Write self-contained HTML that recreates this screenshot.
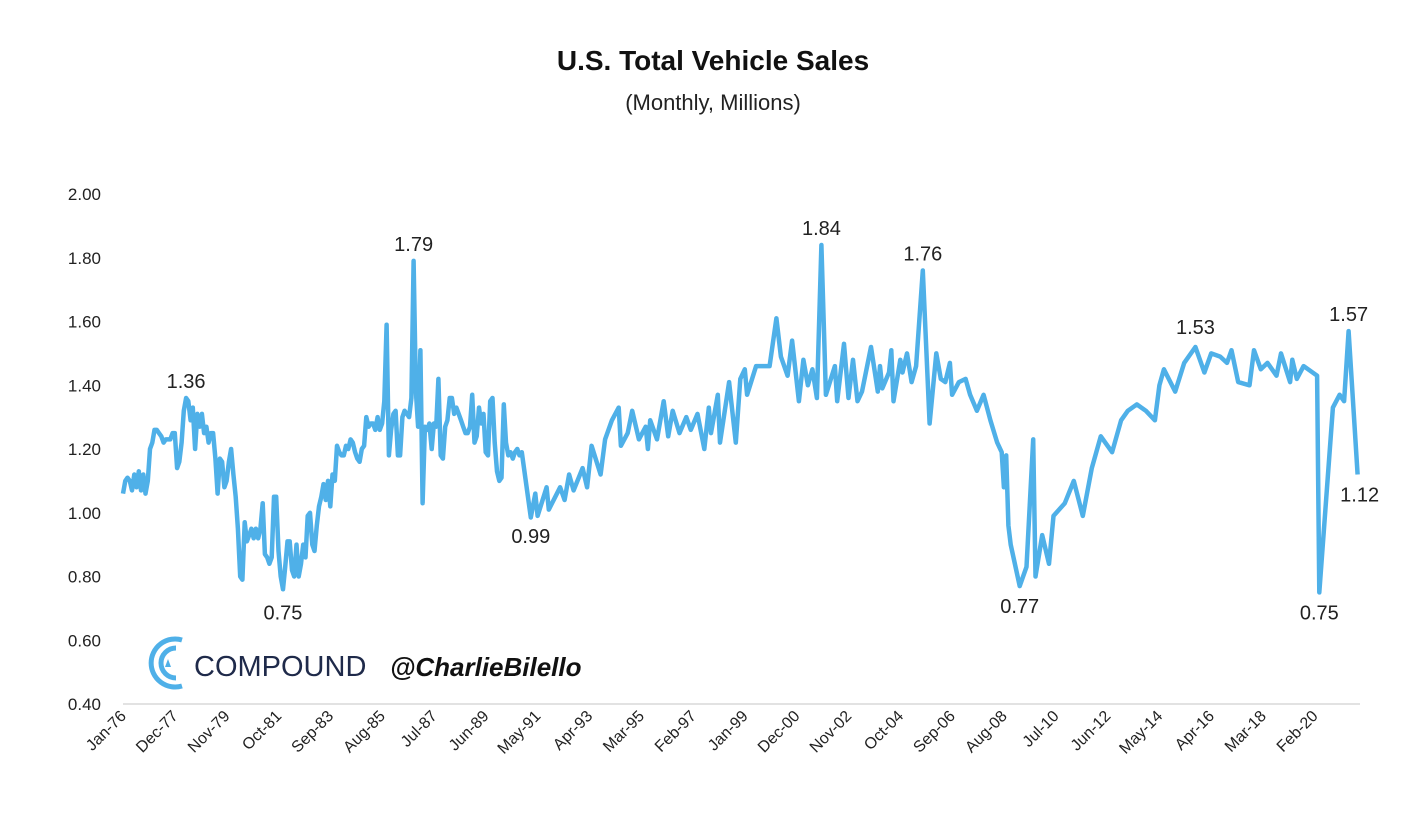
<!DOCTYPE html>
<html><head><meta charset="utf-8"><style>
body{margin:0;background:#fff;}
svg{display:block;font-family:"Liberation Sans",Calibri,sans-serif;}
</style></head><body>
<svg id="chart" width="1426" height="832" viewBox="0 0 1426 832">
<text x="713" y="70" text-anchor="middle" font-size="28" font-weight="bold" fill="#111">U.S. Total Vehicle Sales</text>
<text x="713" y="110" text-anchor="middle" font-size="22" fill="#222">(Monthly, Millions)</text>
<g id="yaxis"></g>
<g id="xaxis"></g>
<g>
<path d="M182 640 A24 24 0 1 0 182 686" fill="none" stroke="#4fb0e8" stroke-width="5"/>
<path d="M176 648 A15 15 0 1 0 176 678" fill="none" stroke="#4fb0e8" stroke-width="5"/>
<polygon points="165,667 171,667 168,659" fill="#4fb0e8"/>
<text x="194" y="676" font-size="29" fill="#1f2a4a">COMPOUND</text>
<text x="390" y="676" font-size="26" font-style="italic" font-weight="bold" fill="#111">@CharlieBilello</text>
</g>
<g id="series"></g>
<g id="annots"></g>
</svg>
<script>
const monthsEarly=Array.from({length:177},(_,i)=>i);
const salesEarly=[1.06,1.10,1.11,1.10,1.07,1.12,1.08,1.13,1.07,1.12,1.06,1.10,1.20,1.22,1.26,1.26,1.25,1.24,1.22,1.23,1.23,1.23,1.25,1.25,1.14,1.16,1.22,1.32,1.36,1.35,1.29,1.33,1.20,1.31,1.27,1.31,1.25,1.27,1.22,1.25,1.25,1.17,1.06,1.17,1.16,1.08,1.10,1.16,1.20,1.12,1.05,0.95,0.80,0.79,0.97,0.91,0.93,0.95,0.92,0.95,0.92,0.95,1.03,0.87,0.86,0.84,0.86,1.05,1.05,0.88,0.80,0.76,0.83,0.91,0.91,0.82,0.80,0.90,0.80,0.84,0.90,0.86,0.99,1.00,0.90,0.88,0.96,1.02,1.05,1.09,1.04,1.10,1.02,1.12,1.10,1.21,1.19,1.18,1.18,1.21,1.20,1.23,1.22,1.19,1.17,1.16,1.20,1.21,1.30,1.27,1.28,1.28,1.26,1.30,1.26,1.28,1.35,1.59,1.18,1.26,1.31,1.32,1.18,1.18,1.30,1.32,1.31,1.30,1.36,1.79,1.38,1.27,1.51,1.03,1.27,1.26,1.28,1.20,1.28,1.27,1.42,1.18,1.17,1.27,1.29,1.36,1.36,1.31,1.33,1.31,1.29,1.27,1.25,1.25,1.27,1.37,1.22,1.24,1.33,1.28,1.31,1.19,1.18,1.35,1.36,1.22,1.13,1.10,1.11,1.34,1.22,1.18,1.19,1.17,1.19,1.20,1.18];
const monthsLate=[177,181,183,184,188,189,194,196,198,200,204,206,208,212,214,217,220,221,224,226,229,232,233,234,237,240,242,244,247,250,252,255,258,260,261,264,265,269,272,274,276,277,281,
283,287,290,292,295,297,300,302,304,306,308,310,312,316,317,320,322,324,326,328,332,335,336,337,340,341,342,345,346,348,350,352,355,358,361,363,365,367,368,371,374,376,379,382,385,388,390,391,392,393,
394,398,401,404,405,408,411,413,
418,422,426,430,434,439,443,446,450,454,458,460,462,467,471,476,480,483,487,490,492,495,500,502,505,508,512,514,518,519,521,524,530,531,537,540,542,544,548];
const salesLate=[1.19,0.985,1.06,0.99,1.08,1.01,1.08,1.04,1.12,1.07,1.14,1.08,1.21,1.12,1.23,1.29,1.33,1.21,1.25,1.32,1.23,1.27,1.20,1.29,1.23,1.35,1.24,1.32,1.25,1.30,1.26,1.31,1.20,1.33,1.25,1.37,1.22,1.41,1.22,1.42,1.45,1.37,1.46,
1.46,1.46,1.61,1.49,1.43,1.54,1.35,1.48,1.40,1.45,1.36,1.84,1.37,1.46,1.35,1.53,1.36,1.48,1.35,1.38,1.52,1.38,1.46,1.39,1.44,1.51,1.35,1.48,1.44,1.50,1.41,1.46,1.76,1.28,1.50,1.42,1.41,1.47,1.37,1.41,1.42,1.37,1.32,1.37,1.29,1.22,1.19,1.08,1.18,0.96,
0.90,0.77,0.83,1.23,0.80,0.93,0.84,0.99,
1.03,1.10,0.99,1.14,1.24,1.19,1.29,1.32,1.34,1.32,1.29,1.40,1.45,1.38,1.47,1.52,1.44,1.50,1.49,1.47,1.51,1.41,1.40,1.51,1.45,1.47,1.43,1.50,1.41,1.48,1.42,1.46,1.43,0.75,1.33,1.37,1.35,1.57,1.12];
const yTicks=[0.40,0.60,0.80,1.00,1.20,1.40,1.60,1.80,2.00];
const xTickMonths=[0,23,46,69,92,115,138,161,184,207,230,253,276,299,322,345,368,391,414,437,460,483,506,529];
const xTickLabels=["Jan-76","Dec-77","Nov-79","Oct-81","Sep-83","Aug-85","Jul-87","Jun-89","May-91","Apr-93","Mar-95","Feb-97","Jan-99","Dec-00","Nov-02","Oct-04","Sep-06","Aug-08","Jul-10","Jun-12","May-14","Apr-16","Mar-18","Feb-20"];
const annMonths=[28,129,71,181,310,355,398,476,544,531,548];
const annValues=[1.36,1.79,0.75,0.99,1.84,1.76,0.77,1.53,1.57,0.75,1.12];
const annPos=["above","above","below","below","above","above","below","above","above","below","below"];

const months=monthsEarly.concat(monthsLate);
const sales=salesEarly.concat(salesLate);
const NS="http://www.w3.org/2000/svg";
const X=m=>123+m*2.253;
const Y=v=>194+(2-v)/0.2*63.75;
function mk(t,a,p){const e=document.createElementNS(NS,t);for(const k in a)e.setAttribute(k,a[k]);p.appendChild(e);return e;}
const ya=document.getElementById('yaxis');
yTicks.forEach(v=>{const t=mk('text',{x:101,y:Y(v)+6,'text-anchor':'end','font-size':17,fill:'#222'},ya);


t.textContent=v.toFixed(2);});
const base=mk('line',{x1:123,x2:1360,y1:Y(0.4),y2:Y(0.4),stroke:'#d9d9d9','stroke-width':1.5},ya);


const xa=document.getElementById('xaxis');
xTickMonths.forEach((m,i)=>{const x=X(m)+4,y=717;
const t=mk('text',{x:x,y:y,'text-anchor':'end','font-size':16,fill:'#222',transform:`rotate(-45 ${x} ${y})`},xa);


t.textContent=xTickLabels[i];});
const d=months.map((m,i)=>(i?'L':'M')+X(m).toFixed(1)+' '+Y(sales[i]).toFixed(1)).join(' ');
const p=mk('path',{d:d,fill:'none',stroke:'#4fb0e8','stroke-width':4.5,'stroke-linejoin':'round'},document.getElementById('series'));


const an=document.getElementById('annots');
annMonths.forEach((m,i)=>{const up=annPos[i]==='above';
const t=mk('text',{x:X(m)+(i===10?2:0),y:up?Y(annValues[i])-10:Y(annValues[i])+27,'text-anchor':'middle','font-size':20,fill:'#222'},an);


t.textContent=annValues[i].toFixed(2);});
</script>
</body></html>
